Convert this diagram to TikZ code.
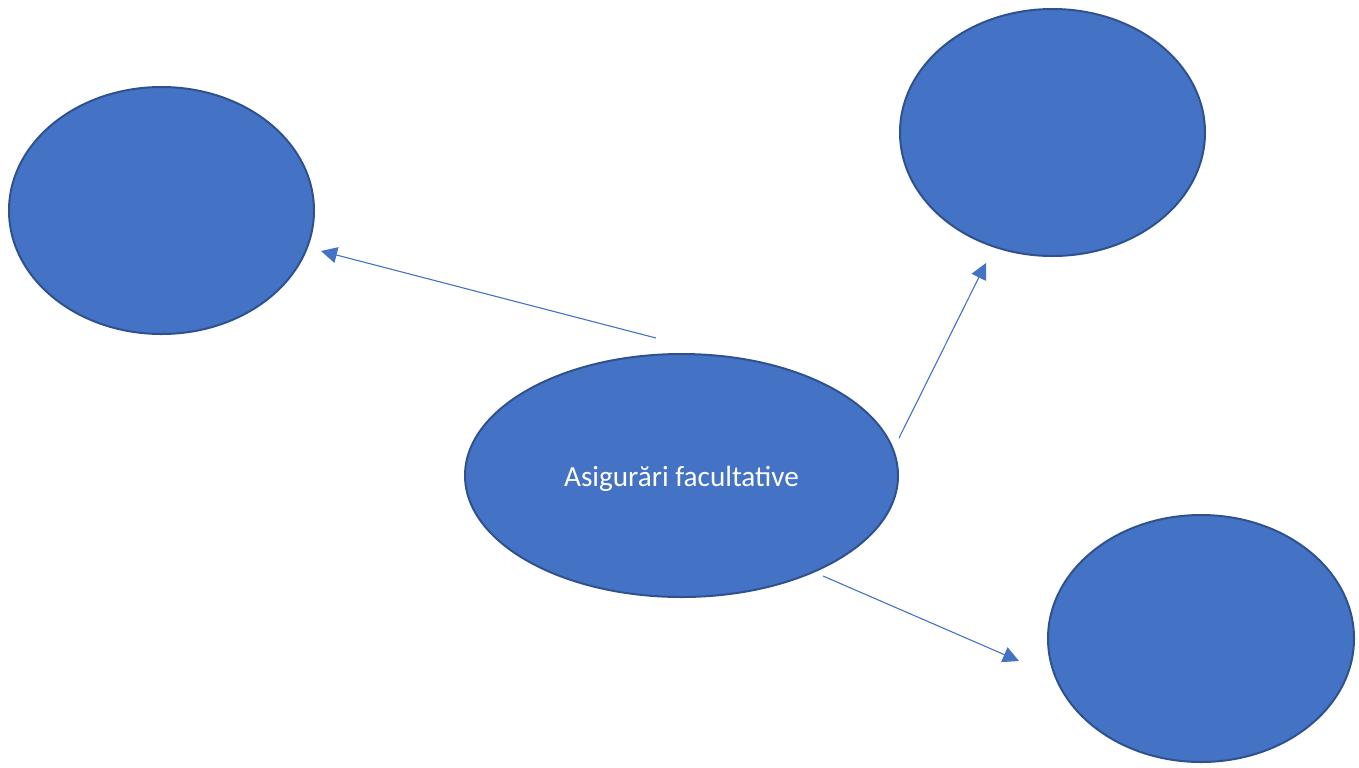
\documentclass[tikz,border=0pt]{standalone}
\usepackage{fontspec}
\setmainfont{Carlito}
\usetikzlibrary{arrows.meta,shapes.geometric}

\definecolor{officeblue}{HTML}{4472C4}
\definecolor{officeline}{HTML}{2F528F}

\tikzset{
  bubble/.style={ellipse, fill=officeblue, draw=officeline, line width=1pt,
    inner sep=0pt, text=white, minimum width=152.5pt, minimum height=123.5pt},
  link/.style={draw=officeblue, line width=0.55pt,
    -{Triangle[length=8pt,width=8pt]}}
}

\begin{document}
\begin{tikzpicture}[x=0.5pt,y=-0.5pt]
  \useasboundingbox (0,0) rectangle (1359,767); %page size

  %Bubbles
  \node[bubble, minimum width=216.5pt, minimum height=121.5pt,
    font=\fontsize{14.6}{17}\selectfont] (main) at (681.5,475.5)
    {\raisebox{-1.6pt}[\height][\depth]{Asigurări facultative}};
  \node[bubble] (left)  at (161.5,210.5) {};
  \node[bubble] (upper) at (1052.5,132.5) {};
  \node[bubble, minimum width=153pt] (lower) at (1201,638.5) {};

  %Arrow ends (the arrows do not touch the bubbles)
  \coordinate (ls) at (656,338);
  \coordinate (le) at (321,251);
  \coordinate (us) at (899,438);
  \coordinate (ue) at (986,263);
  \coordinate (ds) at (823,576);
  \coordinate (de) at (1019,661);

  %Arrows
  \draw[link] (ls) -- (le);
  \draw[link] (us) -- (ue);
  \draw[link] (ds) -- (de);
\end{tikzpicture}
\end{document}
